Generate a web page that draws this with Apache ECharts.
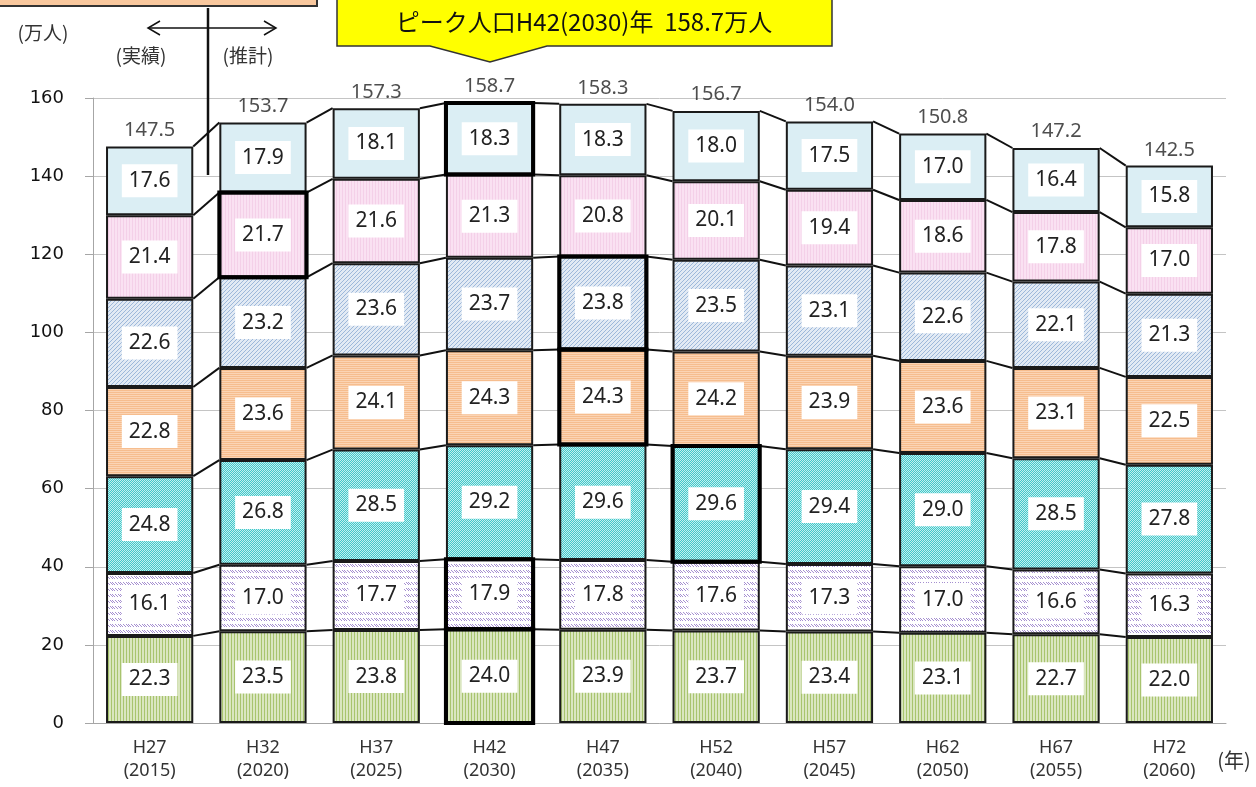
<!DOCTYPE html>
<html>
<head>
<meta charset="utf-8">
<script src="https://cdn.jsdelivr.net/npm/echarts@6/dist/echarts.min.js"></script>
<style>
    html, body {
        margin: 0;
        padding: 0;
        background: #fff;
    }

    #popChart {
        width: 1256px;
        height: 787px;
    }
</style>
</head>
<body>
<div id="popChart"></div>
<script>
    const categories = ['H27\n(2015)', 'H32\n(2020)', 'H37\n(2025)', 'H42\n(2030)', 'H47\n(2035)',
        'H52\n(2040)', 'H57\n(2045)', 'H62\n(2050)', 'H67\n(2055)', 'H72\n(2060)'];

    // 下から順に
    const seg1 = [22.3, 23.5, 23.8, 24.0, 23.9, 23.7, 23.4, 23.1, 22.7, 22.0];
    const seg2 = [16.1, 17.0, 17.7, 17.9, 17.8, 17.6, 17.3, 17.0, 16.6, 16.3];
    const seg3 = [24.8, 26.8, 28.5, 29.2, 29.6, 29.6, 29.4, 29.0, 28.5, 27.8];
    const seg4 = [22.8, 23.6, 24.1, 24.3, 24.3, 24.2, 23.9, 23.6, 23.1, 22.5];
    const seg5 = [22.6, 23.2, 23.6, 23.7, 23.8, 23.5, 23.1, 22.6, 22.1, 21.3];
    const seg6 = [21.4, 21.7, 21.6, 21.3, 20.8, 20.1, 19.4, 18.6, 17.8, 17.0];
    const seg7 = [17.6, 17.9, 18.1, 18.3, 18.3, 18.0, 17.5, 17.0, 16.4, 15.8];
    const totals = [147.5, 153.7, 157.3, 158.7, 158.3, 156.7, 154.0, 150.8, 147.2, 142.5];
    // 各系列のピーク (太枠) のカテゴリ番号
    const peakIdx = [3, 3, 5, 4, 4, 1, 3];

    const stacks = [seg1, seg2, seg3, seg4, seg5, seg6, seg7];

    // 模様
    function makePattern(w, h, bg, draw) {
        const c = document.createElement('canvas');
        c.width = w;
        c.height = h;
        const ctx = c.getContext('2d');
        ctx.fillStyle = bg;
        ctx.fillRect(0, 0, w, h);
        draw(ctx);
        return {image: c, repeat: 'repeat'};
    }

    function px(ctx, color, pts) {
        ctx.fillStyle = color;
        pts.forEach(p => ctx.fillRect(p[0], p[1], 1, 1));
    }

    const fills = [
        makePattern(3, 3, '#dae6c0', ctx => {
            ctx.fillStyle = '#a8c46e';
            ctx.fillRect(0, 0, 1, 3);
        }),
        makePattern(8, 6, '#ffffff', ctx => {
            px(ctx, '#a58fd0', [[0, 0], [1, 1], [2, 2], [3, 0], [4, 1], [5, 2], [6, 0], [7, 1], [0, 2]]);
        }),
        makePattern(2, 2, '#42c7c9', ctx => {
            px(ctx, '#c2f0f0', [[0, 0], [1, 1]]);
        }),
        makePattern(2, 2, '#fbd4b4', ctx => {
            ctx.fillStyle = '#f6bd8e';
            ctx.fillRect(0, 0, 2, 1);
        }),
        makePattern(4, 4, '#e2eaf4', ctx => {
            px(ctx, '#9db8da', [[3, 0], [2, 1], [1, 2], [0, 3]]);
        }),
        makePattern(3, 3, '#fae1f2', ctx => {
            ctx.fillStyle = '#f4d0e8';
            ctx.fillRect(0, 0, 1, 3);
        }),
        '#dbeef4'
    ];

    const numFont = '"Noto Sans", sans-serif';
    const jpFont = '"Noto Sans CJK JP", sans-serif';

    const barSeries = stacks.map((d, k) => ({
        name: 's' + (k + 1),
        type: 'bar',
        stack: 'total',
        barWidth: '77%',
        data: d,
        itemStyle: {
            color: fills[k],
            borderColor: '#1a1a1a',
            borderWidth: 2
        },
        label: {
            show: true,
            position: 'inside',
            formatter: p => p.value.toFixed(1),
            backgroundColor: '#fff',
            padding: [4, 7],
            lineHeight: 25,
            fontSize: 21,
            color: '#222',
            fontFamily: numFont
        },
        emphasis: {disabled: true}
    }));

    const chart = echarts.init(document.getElementById('popChart'));
    chart.setOption({
        animation: false,
        grid: {
            left: 93,
            right: 30,
            top: 98,
            bottom: 64
        },
        xAxis: {
            type: 'category',
            data: categories,
            axisLine: {lineStyle: {color: '#a6a6a6'}},
            axisTick: {length: 6, lineStyle: {color: '#a6a6a6'}},
            axisLabel: {
                color: '#333',
                fontSize: 18,
                lineHeight: 23,
                margin: 13,
                fontFamily: numFont
            }
        },
        yAxis: {
            type: 'value',
            min: 0,
            max: 160,
            interval: 20,
            axisLine: {show: true, lineStyle: {color: '#a6a6a6'}},
            axisTick: {show: true, length: 8, lineStyle: {color: '#a6a6a6'}},
            axisLabel: {
                color: '#111',
                fontSize: 18,
                fontWeight: 500,
                margin: 29,
                fontFamily: '"DejaVu Sans", sans-serif'
            },
            splitLine: {lineStyle: {color: '#c4c4c4'}}
        },
        series: barSeries.concat([
            {
                // 棒の間の接続線
                type: 'custom',
                data: [0, 1, 2, 3, 4, 5, 6, 7, 8].map(i => [i, 0]),
                encode: {x: 0, y: 1},
                silent: true,
                z: 3,
                renderItem: function (params, api) {
                    const i = api.value(0);
                    const hw = api.size([1, 0])[0] * 0.77 / 2;
                    const children = [];
                    let a = 0, b = 0;
                    for (let k = 0; k < stacks.length; k++) {
                        a += stacks[k][i];
                        b += stacks[k][i + 1];
                        const p1 = api.coord([i, a]);
                        const p2 = api.coord([i + 1, b]);
                        children.push({
                            type: 'line',
                            shape: {x1: p1[0] + hw, y1: p1[1], x2: p2[0] - hw, y2: p2[1]},
                            style: {stroke: '#111', lineWidth: 2}
                        });
                    }
                    return {type: 'group', children: children};
                }
            },
            {
                // ピークの太枠
                type: 'custom',
                data: peakIdx.map((i, k) => [i, 0, k]),
                encode: {x: 0, y: 1},
                silent: true,
                z: 5,
                renderItem: function (params, api) {
                    const i = api.value(0);
                    const k = api.value(2);
                    const hw = api.size([1, 0])[0] * 0.77 / 2;
                    let base = 0;
                    for (let j = 0; j < k; j++) base += stacks[j][i];
                    const p0 = api.coord([i, base]);
                    const p1 = api.coord([i, base + stacks[k][i]]);
                    return {
                        type: 'rect',
                        shape: {x: p0[0] - hw, y: p1[1], width: hw * 2, height: p0[1] - p1[1]},
                        style: {fill: 'none', stroke: '#000', lineWidth: 4}
                    };
                }
            },
            {
                // 合計
                type: 'scatter',
                data: totals,
                symbolSize: 1,
                itemStyle: {color: 'rgba(0,0,0,0)'},
                silent: true,
                label: {
                    show: true,
                    position: 'top',
                    distance: 6,
                    formatter: p => p.value.toFixed(1),
                    fontSize: 20,
                    color: '#222',
                    fontFamily: numFont
                }
            }
        ]),
        graphic: [
            {
                type: 'rect',
                shape: {x: -4, y: -20, width: 321, height: 26},
                style: {fill: '#f9c89e', stroke: '#333', lineWidth: 2},
                z: 10
            },
            {
                type: 'polygon',
                shape: {points: [[337, -4], [832, -4], [832, 46], [547, 46], [490, 62], [430, 46], [337, 46]]},
                style: {fill: '#ffff00', stroke: '#333', lineWidth: 1.5},
                z: 10
            },
            {
                type: 'text',
                x: 584,
                y: 22,
                style: {
                    text: 'ピーク人口H42(2030)年  158.7万人',
                    fontSize: 24,
                    fontFamily: jpFont,
                    fill: '#111',
                    align: 'center',
                    verticalAlign: 'middle'
                },
                z: 11
            },
            {
                type: 'text',
                x: 43,
                y: 33,
                style: {text: '(万人)', fontSize: 19, fontFamily: jpFont, fill: '#333', align: 'center', verticalAlign: 'middle'}
            },
            {
                type: 'text',
                x: 141,
                y: 56,
                style: {text: '(実績)', fontSize: 19, fontFamily: jpFont, fill: '#333', align: 'center', verticalAlign: 'middle'}
            },
            {
                type: 'text',
                x: 248,
                y: 56,
                style: {text: '(推計)', fontSize: 19, fontFamily: jpFont, fill: '#333', align: 'center', verticalAlign: 'middle'}
            },
            {
                type: 'line',
                shape: {x1: 208, y1: 8, x2: 208, y2: 175},
                style: {stroke: '#111', lineWidth: 2.5},
                z: 10
            },
            {
                type: 'polyline',
                shape: {points: [[148, 28], [276, 28]]},
                style: {stroke: '#111', lineWidth: 1.5},
                z: 10
            },
            {
                type: 'polyline',
                shape: {points: [[160, 21], [148, 28], [160, 35]]},
                style: {stroke: '#111', lineWidth: 1.5, fill: 'none'},
                z: 10
            },
            {
                type: 'polyline',
                shape: {points: [[264, 21], [276, 28], [264, 35]]},
                style: {stroke: '#111', lineWidth: 1.5, fill: 'none'},
                z: 10
            },
            {
                type: 'text',
                x: 1234,
                y: 760,
                style: {text: '(年)', fontSize: 20, fontFamily: jpFont, fill: '#333', align: 'center', verticalAlign: 'middle'}
            }
        ]
    });
</script>
</body>
</html>
